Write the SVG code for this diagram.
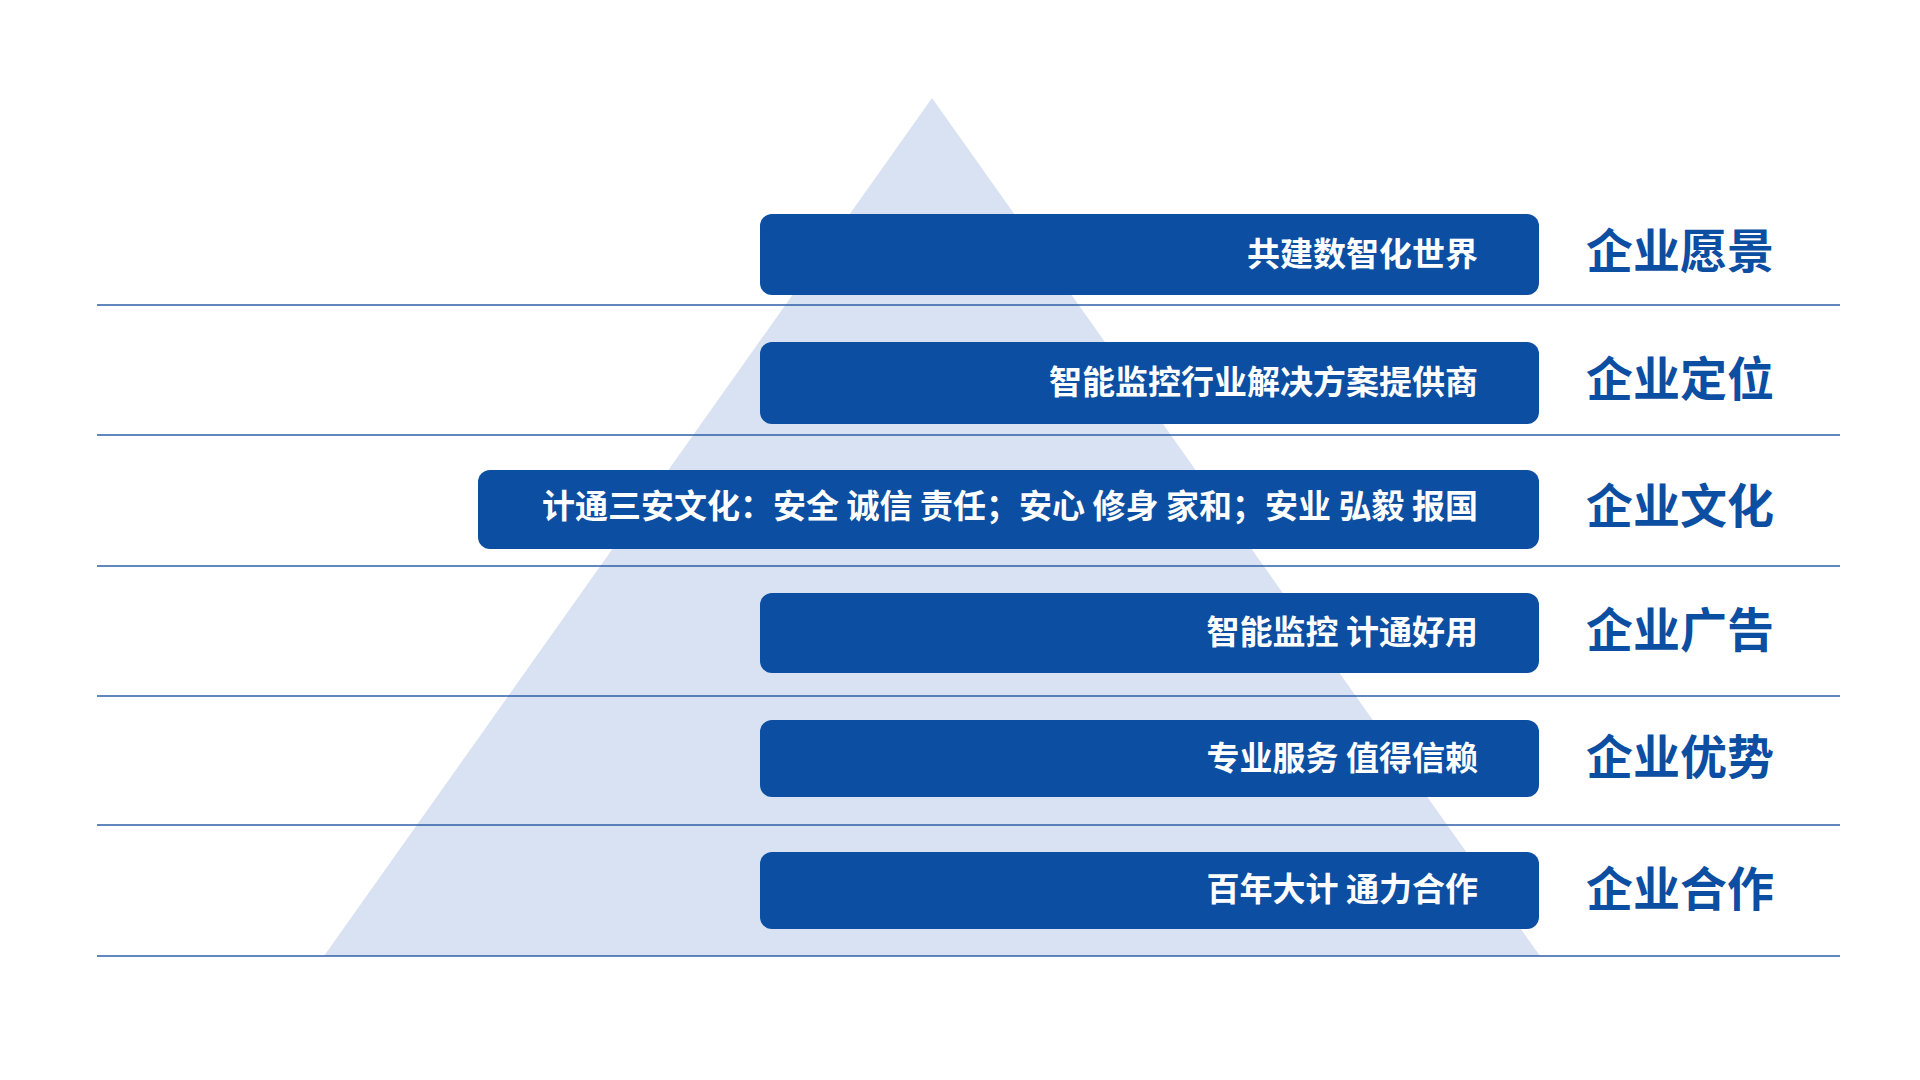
<svg xmlns="http://www.w3.org/2000/svg" width="1920" height="1080" viewBox="0 0 1920 1080">
<style>
.bar{fill:#0c4ea2}
.bt{fill:#fff;font-family:"Noto Sans CJK SC","Noto Sans",sans-serif;font-weight:bold;font-size:33px;text-anchor:end}
.lb{fill:#0c4ea2;font-family:"Noto Sans CJK SC","Noto Sans",sans-serif;font-weight:bold;font-size:47px}
.ln{stroke:#2e5ea8;stroke-width:1.5}
</style>
<rect width="1920" height="1080" fill="#fff"/>
<polygon points="932,98 324,956 1540,956" fill="#d9e2f3"/>
<g id="connectors">
<line class="ln" x1="97" y1="305" x2="1840" y2="305"/>
<line class="ln" x1="97" y1="435" x2="1840" y2="435"/>
<line class="ln" x1="97" y1="566" x2="1840" y2="566"/>
<line class="ln" x1="97" y1="696" x2="1840" y2="696"/>
<line class="ln" x1="97" y1="825" x2="1840" y2="825"/>
<line class="ln" x1="97" y1="956" x2="1840" y2="956"/>
</g>
<g id="vision"><rect class="bar" x="760" y="214" width="779" height="81" rx="12"/><text class="bt" x="1478" y="266">共建数智化世界</text><text class="lb" x="1586" y="268">企业愿景</text></g>
<g id="position"><rect class="bar" x="760" y="342" width="779" height="82" rx="12"/><text class="bt" x="1478" y="394">智能监控行业解决方案提供商</text><text class="lb" x="1586" y="396">企业定位</text></g>
<g id="culture"><rect class="bar" x="478" y="470" width="1061" height="79" rx="12"/><text class="bt" x="1478" y="518" font-size="30">计通三安文化：安全 诚信 责任；安心 修身 家和；安业 弘毅 报国</text><text class="lb" x="1586" y="523">企业文化</text></g>
<g id="ad"><rect class="bar" x="760" y="593" width="779" height="80" rx="12"/><text class="bt" x="1478" y="644">智能监控 计通好用</text><text class="lb" x="1586" y="647">企业广告</text></g>
<g id="advantage"><rect class="bar" x="760" y="720" width="779" height="77" rx="12"/><text class="bt" x="1478" y="770">专业服务 值得信赖</text><text class="lb" x="1586" y="774">企业优势</text></g>
<g id="coop"><rect class="bar" x="760" y="852" width="779" height="77" rx="12"/><text class="bt" x="1478" y="901">百年大计 通力合作</text><text class="lb" x="1586" y="906">企业合作</text></g>
</svg>
